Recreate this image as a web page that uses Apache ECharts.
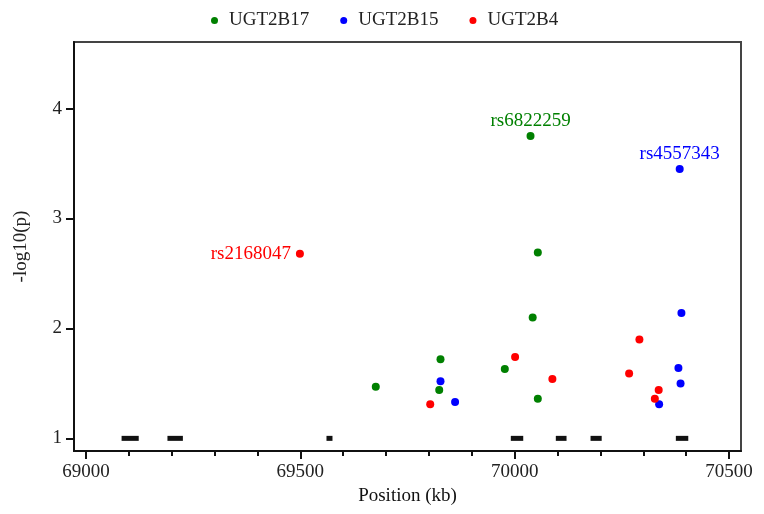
<!DOCTYPE html>
<html>
<head>
<meta charset="utf-8">
<script src="https://cdn.jsdelivr.net/npm/echarts@6/dist/echarts.min.js"></script>
<style>
html,body{margin:0;padding:0;background:#fff;}
#chart{width:764px;height:514px;}
</style>
</head>
<body>
<div id="chart"></div>
<script>
// ---- data ----
const seriesNames = ['UGT2B17', 'UGT2B15', 'UGT2B4'];
const ugt2b17 = [[69676,1.47],[69827,1.72],[69824,1.44],[69977,1.63],[70037,3.75],[70054,2.69],[70042,2.10],[70054,1.36]];
const ugt2b15 = [[69827,1.52],[69861,1.33],[70385,3.45],[70389,2.14],[70382,1.64],[70387,1.50],[70337,1.31]];
const ugt2b4  = [[69499,2.68],[69803,1.31],[70001,1.74],[70088,1.54],[70291,1.90],[70267,1.59],[70336,1.44],[70327,1.36]];
const snpLabels = [
  {series: 'UGT2B17', index: 4, text: 'rs6822259'},
  {series: 'UGT2B15', index: 2, text: 'rs4557343'},
  {series: 'UGT2B4',  index: 0, text: 'rs2168047'}
];
const genes = [[69083,69123,1],[69190,69226,1],[69561,69575,1],[69991,70020,1],[70096,70121,1],[70177,70203,1],[70376,70405,1]];
const xTickLabels = [69000, 69500, 70000, 70500];
const xMinorTicks = [69100,69200,69300,69400,69600,69700,69800,69900,70100,70200,70300,70400];
const yTickLabels = [1, 2, 3, 4];

// ---- styling ----
const colors = {'UGT2B17': '#008000', 'UGT2B15': '#0000ff', 'UGT2B4': '#ff0000'};
const labelPos = {'UGT2B17': 'top', 'UGT2B15': 'top', 'UGT2B4': 'left'};
const FONT = '"Liberation Serif", "DejaVu Serif", serif';
const FS = 19;
const dataBySeries = {'UGT2B17': ugt2b17, 'UGT2B15': ugt2b15, 'UGT2B4': ugt2b4};

function buildData(name) {
  return dataBySeries[name].map((p, i) => {
    const lab = snpLabels.find(l => l.series === name && l.index === i);
    if (!lab) return p;
    return {
      value: p,
      label: {
        show: true, formatter: lab.text, position: labelPos[name],
        distance: labelPos[name] === 'top' ? 1 : 5,
        color: colors[name], fontFamily: FONT, fontSize: FS
      }
    };
  });
}

const XMIN = 68972, XMAX = 70528, YMIN = 0.885, YMAX = 4.605;

const chart = echarts.init(document.getElementById('chart'));
chart.setOption({
  animation: false,
  backgroundColor: '#fff',
  legend: {
    top: 6, left: 206,
    itemWidth: 7, itemHeight: 7, itemGap: 31,
    icon: 'circle',
    textStyle: {fontFamily: FONT, fontSize: FS, color: '#222', padding: [0,0,0,6]},
    data: seriesNames
  },
  grid: {left: 74, right: 23, top: 42, bottom: 63, show: true, borderColor: '#444', borderWidth: 2},
  xAxis: [{
    type: 'value', min: XMIN, max: XMAX,
    name: 'Position (kb)', nameLocation: 'middle', nameGap: 31,
    nameTextStyle: {fontFamily: FONT, fontSize: FS, color: '#111'},
    axisLine: {lineStyle: {color: '#111', width: 2}},
    axisTick: {length: 8, lineStyle: {color: '#111', width: 2}, customValues: xTickLabels},
    axisLabel: {customValues: xTickLabels, margin: 12, fontFamily: FONT, fontSize: FS, color: '#222',
      formatter: v => String(v)},
    splitLine: {show: false}
  }, {
    type: 'value', min: XMIN, max: XMAX, position: 'bottom',
    axisLine: {show: false},
    axisTick: {length: 5, lineStyle: {color: '#111', width: 2}, customValues: xMinorTicks},
    axisLabel: {show: false},
    splitLine: {show: false}
  }],
  yAxis: {
    type: 'value', min: YMIN, max: YMAX,
    name: '-log10(p)', nameLocation: 'middle', nameGap: 43,
    nameTextStyle: {fontFamily: FONT, fontSize: FS, color: '#222'},
    axisLine: {lineStyle: {color: '#111', width: 2}},
    axisTick: {length: 8, lineStyle: {color: '#111', width: 2}, customValues: yTickLabels},
    axisLabel: {customValues: yTickLabels, margin: 12, fontFamily: FONT, fontSize: FS, color: '#222',
      formatter: v => String(v)},
    splitLine: {show: false}
  },
  series: seriesNames.map(name => ({
    name: name, type: 'scatter', symbol: 'circle', symbolSize: 8,
    itemStyle: {color: colors[name], opacity: 1},
    data: buildData(name),
    z: 3
  })).concat([{
    type: 'custom', name: 'genes', silent: true,
    encode: {x: [0, 1], y: 2},
    renderItem: function (params, api) {
      const s = api.coord([api.value(0), api.value(2)]);
      const e = api.coord([api.value(1), api.value(2)]);
      return {type: 'rect', shape: {x: s[0], y: s[1] - 2.5, width: Math.max(e[0] - s[0], 3), height: 5}, style: {fill: '#111'}};
    },
    data: genes,
    z: 2
  }])
});
</script>
</body>
</html>
